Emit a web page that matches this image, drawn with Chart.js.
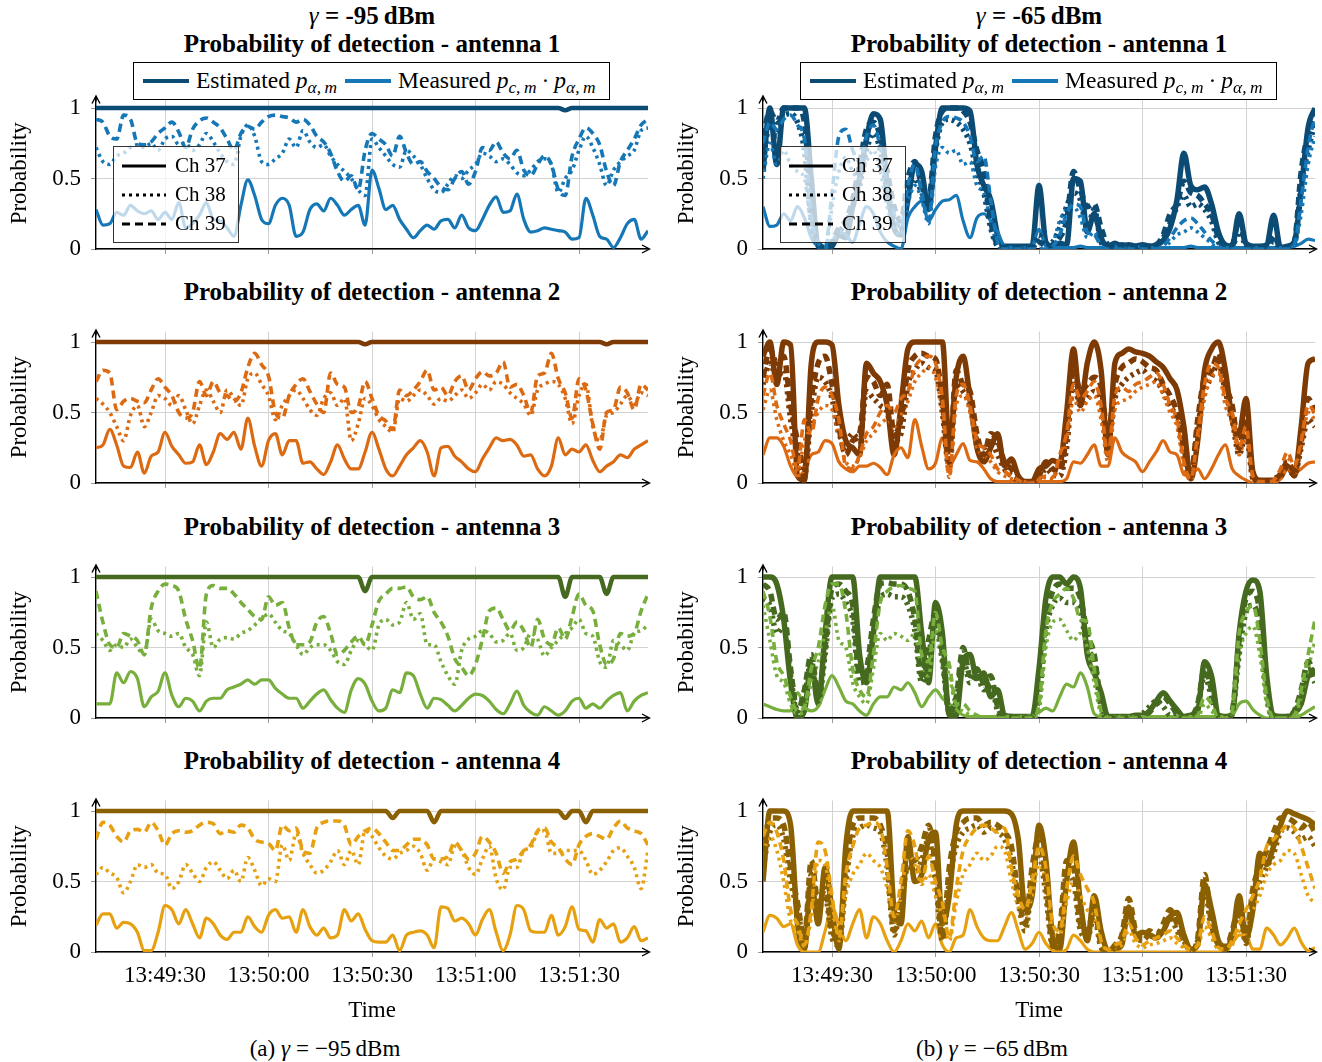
<!DOCTYPE html>
<html lang="en">
<head>
  <meta charset="UTF-8" />
  <title>Probability of detection per antenna</title>
  <script src="https://cdn.jsdelivr.net/npm/chart.js"></script>
  <style>
    * { margin: 0; padding: 0; box-sizing: border-box; }

    body {
      width: 1322px;
      height: 1062px;
      position: relative;
      overflow: hidden;
      background: #fff;
      color: #000;
      font-family: 'Liberation Serif', 'Times New Roman', serif;
    }

    canvas { position: absolute; }

    .t {
      position: absolute;
      transform: translate(-50%, -50%);
      white-space: nowrap;
      line-height: 1;
    }

    .head, .title { font-size: 25px; font-weight: bold; }
    .head i { font-weight: normal; }
    .caption { font-size: 23px; }
    .op { margin: 0 6px; }

    sub {
      font-size: 0.74em;
      vertical-align: -0.3em;
      line-height: 0;
      font-style: italic;
    }

    .topleg {
      position: absolute;
      width: 477px;
      height: 38px;
      border: 1px solid #000;
      background: #fff;
      display: flex;
      align-items: center;
      padding-left: 9px;
      font-size: 23.5px;
      line-height: 1;
    }
    .topleg svg { margin-right: 7px; }
    .topleg span { margin-right: 8px; }
    .topleg .dot { margin: 0 5px; }

    .chleg {
      position: absolute;
      width: 126px;
      height: 97px;
      border: 1px solid #333;
      background: rgba(255, 255, 255, 0.72);
      padding: 4px 0 0 8px;
      font-size: 21px;
      line-height: 1;
    }
    .chleg div { height: 29px; display: flex; align-items: center; }
    .chleg svg { margin-right: 9px; }
  </style>
</head>
<body>
  <script>
    // time axis: seconds after 13:49:00, one sample every 2 s
    const TIME = [
      10, 12, 14, 16, 18, 20, 22, 24, 26, 28,
      30, 32, 34, 36, 38, 40, 42, 44, 46, 48,
      50, 52, 54, 56, 58, 60, 62, 64, 66, 68,
      70, 72, 74, 76, 78, 80, 82, 84, 86, 88,
      90, 92, 94, 96, 98, 100, 102, 104, 106, 108,
      110, 112, 114, 116, 118, 120, 122, 124, 126, 128,
      130, 132, 134, 136, 138, 140, 142, 144, 146, 148,
      150, 152, 154, 156, 158, 160, 162, 164, 166, 168,
      170
    ];
    const X_TICKS = [30, 60, 90, 120, 150];
    const X_LABELS = ['13:49:30', '13:50:00', '13:50:30', '13:51:00', '13:51:30'];
    const Y_TICKS = [0, 0.5, 1];
    const Y_LABELS = ['0', '0.5', '1'];

    // ---- gamma = -95 dBm ----
    // estimated p_alpha (same for Ch 37/38/39 at this threshold)
    const L1_EST = [
      1, 1, 1, 1, 1, 1, 1, 1, 1, 1,
      1, 1, 1, 1, 1, 1, 1, 1, 1, 1,
      1, 1, 1, 1, 1, 1, 1, 1, 1, 1,
      1, 1, 1, 1, 1, 1, 1, 1, 1, 1,
      1, 1, 1, 1, 1, 1, 1, 1, 1, 1,
      1, 1, 1, 1, 1, 1, 1, 1, 1, 1,
      1, 1, 1, 1, 1, 1, 1, 1, 0.985, 1,
      1, 1, 1, 1, 1, 1, 1, 1, 1, 1,
      1
    ];
    const L2_EST = [
      1, 1, 1, 1, 1, 1, 1, 1, 1, 1,
      1, 1, 1, 1, 1, 1, 1, 1, 1, 1,
      1, 1, 1, 1, 1, 1, 1, 1, 1, 1,
      1, 1, 1, 1, 1, 1, 1, 1, 1, 0.985,
      1, 1, 1, 1, 1, 1, 1, 1, 1, 1,
      1, 1, 1, 1, 1, 1, 1, 1, 1, 1,
      1, 1, 1, 1, 1, 1, 1, 1, 1, 1,
      1, 1, 1, 1, 0.985, 1, 1, 1, 1, 1,
      1
    ];
    const L3_EST = [
      1, 1, 1, 1, 1, 1, 1, 1, 1, 1,
      1, 1, 1, 1, 1, 1, 1, 1, 1, 1,
      1, 1, 1, 1, 1, 1, 1, 1, 1, 1,
      1, 1, 1, 1, 1, 1, 1, 1, 1, 0.9,
      1, 1, 1, 1, 1, 1, 1, 1, 1, 1,
      1, 1, 1, 1, 1, 1, 1, 1, 1, 1,
      1, 1, 1, 1, 1, 1, 1, 1, 0.86, 1,
      1, 1, 1, 1, 0.88, 1, 1, 1, 1, 1,
      1
    ];
    const L4_EST = [
      1, 1, 1, 1, 1, 1, 1, 1, 1, 1,
      1, 1, 1, 1, 1, 1, 1, 1, 1, 1,
      1, 1, 1, 1, 1, 1, 1, 1, 1, 1,
      1, 1, 1, 1, 1, 1, 1, 1, 1, 1,
      1, 1, 1, 0.95, 1, 1, 1, 1, 1, 0.92,
      1, 1, 1, 1, 1, 1, 1, 1, 1, 1,
      1, 1, 1, 1, 1, 1, 1, 1, 0.95, 1,
      1, 0.92, 1, 1, 1, 1, 1, 1, 1, 1,
      1
    ];

    // measured p_c * p_alpha
    const L1_M37 = [
      0.28, 0.17, 0.18, 0.26, 0.24, 0.31, 0.27, 0.25, 0.27, 0.21,
      0.26, 0.21, 0.33, 0.15, 0.18, 0.24, 0.33, 0.21, 0.20, 0.15,
      0.09, 0.31, 0.49, 0.38, 0.21, 0.18, 0.31, 0.36, 0.31, 0.09,
      0.12, 0.28, 0.32, 0.27, 0.36, 0.31, 0.24, 0.28, 0.31, 0.17,
      0.56, 0.43, 0.28, 0.31, 0.21, 0.14, 0.08, 0.13, 0.17, 0.14,
      0.20, 0.21, 0.15, 0.24, 0.15, 0.13, 0.21, 0.31, 0.37, 0.26,
      0.27, 0.39, 0.21, 0.12, 0.13, 0.15, 0.14, 0.13, 0.12, 0.07,
      0.08, 0.36, 0.24, 0.09, 0.07, 0.01, 0.08, 0.18, 0.21, 0.07,
      0.13
    ];
    const L1_M38 = [
      0.72, 0.62, 0.60, 0.66, 0.68, 0.72, 0.74, 0.72, 0.75, 0.70,
      0.78, 0.80, 0.74, 0.75, 0.70, 0.74, 0.82, 0.76, 0.68, 0.62,
      0.60, 0.80, 0.88, 0.80, 0.62, 0.60, 0.64, 0.68, 0.78, 0.72,
      0.84, 0.76, 0.72, 0.74, 0.66, 0.60, 0.55, 0.50, 0.42, 0.38,
      0.78, 0.72, 0.66, 0.60, 0.58, 0.70, 0.66, 0.60, 0.50, 0.42,
      0.40, 0.46, 0.52, 0.50, 0.56, 0.60, 0.68, 0.66, 0.62, 0.64,
      0.60, 0.54, 0.52, 0.56, 0.62, 0.64, 0.60, 0.40, 0.50, 0.56,
      0.70, 0.80, 0.72, 0.60, 0.45, 0.56, 0.62, 0.66, 0.70, 0.84,
      0.86
    ];
    const L1_M39 = [
      0.92, 0.90, 0.80, 0.78, 0.95, 0.92, 0.75, 0.74, 0.76, 0.82,
      0.86, 0.90, 0.83, 0.72, 0.85, 0.91, 0.93, 0.90, 0.86, 0.78,
      0.70, 0.82, 0.87, 0.85, 0.90, 0.94, 0.95, 0.94, 0.93, 0.90,
      0.92, 0.88, 0.80, 0.76, 0.68, 0.55, 0.48, 0.52, 0.42, 0.70,
      0.82, 0.78, 0.74, 0.66, 0.80, 0.68, 0.60, 0.62, 0.55, 0.50,
      0.44, 0.42, 0.50, 0.55, 0.46, 0.55, 0.72, 0.70, 0.76, 0.68,
      0.64, 0.70, 0.56, 0.52, 0.60, 0.66, 0.60, 0.42, 0.38, 0.66,
      0.78, 0.86, 0.82, 0.74, 0.55, 0.45, 0.62, 0.70, 0.78, 0.88,
      0.92
    ];

    const L2_M37 = [
      0.25, 0.27, 0.38, 0.27, 0.12, 0.11, 0.22, 0.07, 0.19, 0.22,
      0.36, 0.26, 0.20, 0.14, 0.15, 0.27, 0.13, 0.22, 0.35, 0.31,
      0.36, 0.24, 0.46, 0.26, 0.12, 0.30, 0.35, 0.20, 0.30, 0.30,
      0.14, 0.15, 0.10, 0.06, 0.15, 0.27, 0.17, 0.10, 0.10, 0.22,
      0.36, 0.24, 0.10, 0.05, 0.12, 0.20, 0.25, 0.30, 0.22, 0.05,
      0.25, 0.26, 0.19, 0.15, 0.10, 0.08, 0.17, 0.25, 0.32, 0.30,
      0.31, 0.27, 0.19, 0.20, 0.10, 0.05, 0.12, 0.32, 0.20, 0.24,
      0.22, 0.27, 0.16, 0.08, 0.12, 0.15, 0.20, 0.18, 0.24, 0.27,
      0.30
    ];
    const L2_M38 = [
      0.60, 0.56, 0.50, 0.40, 0.30, 0.48, 0.55, 0.40, 0.50, 0.62,
      0.60, 0.55, 0.62, 0.52, 0.42, 0.55, 0.66, 0.58, 0.50, 0.66,
      0.60, 0.55, 0.74, 0.78, 0.70, 0.62, 0.45, 0.55, 0.62, 0.66,
      0.60, 0.52, 0.48, 0.60, 0.64, 0.55, 0.60, 0.30, 0.42, 0.60,
      0.55, 0.45, 0.40, 0.36, 0.60, 0.58, 0.62, 0.66, 0.62, 0.56,
      0.60, 0.58, 0.62, 0.66, 0.60, 0.64, 0.70, 0.66, 0.72, 0.70,
      0.64, 0.60, 0.56, 0.48, 0.66, 0.70, 0.72, 0.70, 0.60, 0.42,
      0.62, 0.70, 0.40, 0.30, 0.48, 0.50, 0.56, 0.62, 0.56, 0.64,
      0.62
    ];
    const L2_M39 = [
      0.72, 0.80, 0.78, 0.52, 0.58, 0.60, 0.58, 0.57, 0.66, 0.74,
      0.68, 0.62, 0.50, 0.46, 0.50, 0.72, 0.62, 0.72, 0.64, 0.62,
      0.58, 0.64, 0.82, 0.92, 0.84, 0.76, 0.50, 0.46, 0.62, 0.70,
      0.74, 0.65, 0.56, 0.50, 0.78, 0.70, 0.68, 0.50, 0.54, 0.72,
      0.60, 0.48, 0.44, 0.38, 0.66, 0.62, 0.66, 0.72, 0.80, 0.66,
      0.68, 0.62, 0.72, 0.76, 0.66, 0.74, 0.79, 0.76, 0.78, 0.86,
      0.68, 0.70, 0.62, 0.50, 0.76, 0.78, 0.92, 0.74, 0.64, 0.46,
      0.74, 0.66, 0.42, 0.24, 0.50, 0.52, 0.68, 0.64, 0.52, 0.70,
      0.66
    ];

    const L3_M37 = [
      0.10, 0.10, 0.10, 0.32, 0.25, 0.33, 0.28, 0.08, 0.15, 0.19,
      0.32, 0.16, 0.08, 0.14, 0.12, 0.05, 0.12, 0.14, 0.14, 0.20,
      0.22, 0.24, 0.27, 0.24, 0.27, 0.27, 0.21, 0.17, 0.14, 0.14,
      0.07, 0.12, 0.17, 0.20, 0.13, 0.07, 0.04, 0.20, 0.28, 0.24,
      0.12, 0.05, 0.07, 0.20, 0.18, 0.32, 0.30, 0.17, 0.07, 0.14,
      0.13, 0.09, 0.05, 0.09, 0.14, 0.17, 0.16, 0.12, 0.06, 0.03,
      0.10, 0.19, 0.09, 0.04, 0.02, 0.08, 0.05, 0.02, 0.05, 0.12,
      0.14, 0.07, 0.10, 0.07, 0.12, 0.16, 0.18, 0.05, 0.12, 0.16,
      0.18
    ];
    const L3_M38 = [
      0.60, 0.55, 0.48, 0.52, 0.50, 0.56, 0.50, 0.45, 0.70, 0.62,
      0.60, 0.58, 0.60, 0.50, 0.45, 0.30, 0.68, 0.50, 0.56, 0.57,
      0.56, 0.60, 0.62, 0.66, 0.70, 0.74, 0.68, 0.62, 0.60, 0.52,
      0.45, 0.50, 0.52, 0.52, 0.48, 0.40, 0.38, 0.48, 0.55, 0.52,
      0.48, 0.66, 0.70, 0.66, 0.68, 0.82, 0.70, 0.74, 0.52, 0.52,
      0.40, 0.30, 0.24, 0.48, 0.56, 0.58, 0.62, 0.60, 0.54, 0.55,
      0.60, 0.48, 0.50, 0.60, 0.56, 0.44, 0.50, 0.55, 0.60, 0.64,
      0.70, 0.60, 0.58, 0.40, 0.36, 0.55, 0.52, 0.48, 0.60, 0.62,
      0.66
    ];
    const L3_M39 = [
      0.90, 0.68, 0.52, 0.50, 0.60, 0.58, 0.55, 0.45, 0.78, 0.90,
      0.95, 0.94, 0.90, 0.70, 0.55, 0.35, 0.88, 0.94, 0.92, 0.92,
      0.88, 0.82, 0.77, 0.72, 0.70, 0.86, 0.80, 0.82, 0.64, 0.52,
      0.52, 0.54, 0.68, 0.72, 0.60, 0.45, 0.48, 0.54, 0.58, 0.52,
      0.66, 0.83, 0.88, 0.92, 0.92, 0.93, 0.86, 0.84, 0.86, 0.75,
      0.68, 0.58, 0.42, 0.36, 0.30, 0.38, 0.56, 0.76, 0.78, 0.70,
      0.62, 0.68, 0.62, 0.50, 0.70, 0.56, 0.52, 0.64, 0.56, 0.72,
      0.88, 0.80, 0.76, 0.52, 0.38, 0.42, 0.60, 0.58, 0.60, 0.76,
      0.88
    ];

    const L4_M37 = [
      0.19, 0.27, 0.27, 0.17, 0.21, 0.20, 0.14, 0.01, 0.01, 0.14,
      0.33, 0.30, 0.20, 0.30, 0.20, 0.10, 0.24, 0.20, 0.12, 0.09,
      0.14, 0.14, 0.25, 0.18, 0.14, 0.26, 0.30, 0.24, 0.25, 0.14,
      0.30, 0.18, 0.12, 0.17, 0.10, 0.12, 0.30, 0.22, 0.27, 0.16,
      0.08, 0.07, 0.07, 0.12, 0.01, 0.12, 0.14, 0.15, 0.12, 0.03,
      0.32, 0.31, 0.22, 0.24, 0.20, 0.12, 0.23, 0.30, 0.14, 0.01,
      0.12, 0.33, 0.30, 0.15, 0.14, 0.14, 0.26, 0.12, 0.18, 0.32,
      0.16, 0.15, 0.07, 0.23, 0.17, 0.20, 0.07, 0.10, 0.18, 0.08,
      0.10
    ];
    const L4_M38 = [
      0.55, 0.60, 0.56, 0.53, 0.42, 0.50, 0.62, 0.60, 0.62, 0.56,
      0.55, 0.45, 0.50, 0.62, 0.56, 0.50, 0.60, 0.64, 0.58, 0.52,
      0.58, 0.50, 0.67, 0.58, 0.47, 0.52, 0.50, 0.76, 0.65, 0.84,
      0.70, 0.62, 0.56, 0.58, 0.64, 0.72, 0.62, 0.72, 0.62, 0.86,
      0.82, 0.74, 0.68, 0.66, 0.70, 0.72, 0.75, 0.70, 0.58, 0.66,
      0.64, 0.62, 0.75, 0.72, 0.60, 0.55, 0.66, 0.75, 0.52, 0.44,
      0.60, 0.60, 0.72, 0.74, 0.85, 0.86, 0.70, 0.70, 0.72, 0.72,
      0.72, 0.65, 0.55, 0.58, 0.64, 0.72, 0.74, 0.68, 0.60, 0.45,
      0.72
    ];
    const L4_M39 = [
      0.80, 0.92, 0.90, 0.82, 0.78, 0.86, 0.87, 0.85, 0.92, 0.86,
      0.76, 0.84, 0.86, 0.85, 0.86, 0.90, 0.92, 0.91, 0.84, 0.86,
      0.85, 0.90, 0.88, 0.80, 0.78, 0.77, 0.72, 0.90, 0.86, 0.88,
      0.72, 0.70, 0.88, 0.92, 0.93, 0.93, 0.90, 0.76, 0.82, 0.86,
      0.88, 0.84, 0.78, 0.72, 0.72, 0.76, 0.80, 0.80, 0.76, 0.66,
      0.66, 0.68, 0.78, 0.72, 0.66, 0.70, 0.82, 0.78, 0.70, 0.56,
      0.64, 0.66, 0.72, 0.76, 0.86, 0.88, 0.78, 0.74, 0.66, 0.62,
      0.76, 0.82, 0.84, 0.82, 0.80, 0.88, 0.93, 0.88, 0.86, 0.84,
      0.76
    ];

    // ---- gamma = -65 dBm ----
    const R1_E37 = [
      0.55, 1.00, 0.60, 1.00, 1.00, 1.00, 1.00, 0.50, 0.02, 0.00,
      0.02, 0.10, 0.08, 0.30, 0.50, 0.78, 0.96, 0.92, 0.45, 0.15,
      0.10, 0.35, 0.60, 0.55, 0.28, 0.72, 1.00, 1.00, 1.00, 1.00,
      0.98, 0.60, 0.45, 0.35, 0.10, 0.02, 0.02, 0.02, 0.02, 0.02,
      0.45, 0.05, 0.02, 0.04, 0.03, 0.50, 0.48, 0.12, 0.25, 0.08,
      0.02, 0.04, 0.02, 0.03, 0.02, 0.03, 0.02, 0.03, 0.06, 0.15,
      0.35, 0.68, 0.45, 0.42, 0.44, 0.32, 0.12, 0.03, 0.02, 0.25,
      0.04, 0.02, 0.02, 0.03, 0.24, 0.01, 0.02, 0.05, 0.42, 0.86,
      1.00
    ];
    const R1_E38 = [
      0.60, 0.90, 0.80, 0.95, 0.96, 0.90, 0.70, 0.20, 0.03, 0.00,
      0.03, 0.12, 0.18, 0.30, 0.45, 0.70, 0.82, 0.70, 0.40, 0.20,
      0.15, 0.40, 0.50, 0.40, 0.30, 0.70, 0.90, 0.92, 0.90, 0.85,
      0.75, 0.55, 0.40, 0.15, 0.02, 0.00, 0.00, 0.00, 0.00, 0.00,
      0.10, 0.02, 0.05, 0.15, 0.30, 0.40, 0.35, 0.15, 0.28, 0.05,
      0.01, 0.01, 0.01, 0.01, 0.01, 0.01, 0.01, 0.02, 0.08, 0.18,
      0.30, 0.38, 0.30, 0.32, 0.28, 0.20, 0.05, 0.01, 0.02, 0.12,
      0.02, 0.00, 0.00, 0.01, 0.05, 0.00, 0.00, 0.03, 0.45, 0.70,
      0.90
    ];
    const R1_E39 = [
      0.80, 0.98, 0.90, 1.00, 1.00, 1.00, 0.90, 0.30, 0.05, 0.01,
      0.05, 0.15, 0.20, 0.35, 0.60, 0.85, 0.90, 0.80, 0.55, 0.30,
      0.20, 0.50, 0.62, 0.45, 0.35, 0.80, 0.98, 1.00, 1.00, 0.98,
      0.90, 0.70, 0.55, 0.20, 0.03, 0.01, 0.01, 0.01, 0.01, 0.01,
      0.05, 0.02, 0.03, 0.08, 0.20, 0.55, 0.42, 0.30, 0.32, 0.15,
      0.03, 0.02, 0.03, 0.02, 0.02, 0.02, 0.02, 0.03, 0.10, 0.25,
      0.32, 0.48, 0.40, 0.38, 0.32, 0.25, 0.08, 0.02, 0.03, 0.20,
      0.03, 0.01, 0.01, 0.02, 0.10, 0.01, 0.01, 0.05, 0.55, 0.82,
      0.96
    ];
    const R1_M37 = [
      0.30, 0.16, 0.17, 0.25, 0.20, 0.30, 0.22, 0.08, 0.02, 0.01,
      0.05, 0.12, 0.10, 0.05, 0.18, 0.30, 0.25, 0.12, 0.05, 0.02,
      0.00, 0.22, 0.30, 0.34, 0.20, 0.28, 0.34, 0.35, 0.38, 0.20,
      0.08, 0.22, 0.25, 0.20, 0.12, 0.02, 0.01, 0.01, 0.01, 0.02,
      0.14, 0.02, 0.01, 0.01, 0.01, 0.01, 0.02, 0.01, 0.01, 0.01,
      0.01, 0.02, 0.01, 0.01, 0.01, 0.02, 0.01, 0.01, 0.01, 0.01,
      0.01, 0.01, 0.02, 0.01, 0.01, 0.01, 0.01, 0.01, 0.01, 0.01,
      0.01, 0.01, 0.01, 0.01, 0.01, 0.01, 0.01, 0.02, 0.04, 0.07,
      0.06
    ];
    const R1_M38 = [
      0.50, 0.75, 0.60, 0.70, 0.60, 0.55, 0.50, 0.15, 0.02, 0.00,
      0.30, 0.55, 0.65, 0.55, 0.50, 0.62, 0.70, 0.55, 0.30, 0.15,
      0.10, 0.32, 0.45, 0.35, 0.18, 0.58, 0.72, 0.68, 0.70, 0.60,
      0.62, 0.45, 0.40, 0.20, 0.03, 0.00, 0.00, 0.00, 0.00, 0.00,
      0.00, 0.00, 0.04, 0.20, 0.28, 0.30, 0.22, 0.08, 0.12, 0.02,
      0.00, 0.00, 0.00, 0.00, 0.00, 0.00, 0.00, 0.00, 0.00, 0.05,
      0.10, 0.12, 0.15, 0.12, 0.08, 0.04, 0.00, 0.00, 0.00, 0.00,
      0.00, 0.00, 0.00, 0.00, 0.00, 0.00, 0.00, 0.02, 0.25, 0.60,
      0.80
    ];
    const R1_M39 = [
      0.75, 0.90, 0.85, 0.92, 0.95, 0.88, 0.78, 0.25, 0.04, 0.01,
      0.40, 0.80, 0.85, 0.70, 0.62, 0.80, 0.88, 0.72, 0.45, 0.25,
      0.15, 0.45, 0.60, 0.40, 0.20, 0.72, 0.90, 0.94, 0.93, 0.90,
      0.80, 0.62, 0.66, 0.35, 0.05, 0.00, 0.00, 0.00, 0.00, 0.00,
      0.00, 0.00, 0.02, 0.10, 0.25, 0.32, 0.30, 0.12, 0.10, 0.02,
      0.00, 0.00, 0.00, 0.00, 0.00, 0.00, 0.00, 0.00, 0.02, 0.08,
      0.15, 0.20, 0.22, 0.18, 0.12, 0.06, 0.02, 0.00, 0.00, 0.00,
      0.00, 0.00, 0.00, 0.00, 0.00, 0.00, 0.00, 0.03, 0.35, 0.72,
      0.94
    ];

    const R2_E37 = [
      0.90, 1.00, 0.70, 1.00, 0.98, 0.05, 0.02, 0.85, 1.00, 1.00,
      0.98, 0.55, 0.30, 0.25, 0.20, 0.85, 0.78, 0.72, 0.55, 0.20,
      0.55, 0.95, 1.00, 1.00, 1.00, 1.00, 1.00, 0.25, 0.75, 0.90,
      0.60, 0.25, 0.15, 0.25, 0.35, 0.12, 0.17, 0.05, 0.01, 0.01,
      0.10, 0.12, 0.16, 0.14, 0.50, 0.95, 0.55, 0.85, 1.00, 0.80,
      0.20, 0.85, 0.92, 0.95, 0.93, 0.92, 0.90, 0.86, 0.82, 0.74,
      0.66, 0.40, 0.03, 0.30, 0.80, 0.95, 1.00, 0.80, 0.45, 0.35,
      0.60, 0.08, 0.02, 0.02, 0.02, 0.04, 0.12, 0.05, 0.40, 0.85,
      0.88
    ];
    const R2_E38 = [
      0.70, 0.85, 0.75, 0.80, 0.45, 0.20, 0.05, 0.50, 0.75, 0.72,
      0.60, 0.35, 0.30, 0.35, 0.30, 0.65, 0.60, 0.55, 0.50, 0.30,
      0.35, 0.70, 0.80, 0.85, 0.82, 0.80, 0.50, 0.10, 0.70, 0.65,
      0.55, 0.30, 0.25, 0.30, 0.20, 0.10, 0.05, 0.02, 0.00, 0.00,
      0.03, 0.10, 0.06, 0.05, 0.25, 0.70, 0.55, 0.60, 0.65, 0.55,
      0.30, 0.60, 0.70, 0.75, 0.78, 0.80, 0.75, 0.72, 0.65, 0.55,
      0.45, 0.20, 0.04, 0.40, 0.65, 0.75, 0.85, 0.65, 0.45, 0.20,
      0.35, 0.03, 0.00, 0.00, 0.02, 0.05, 0.10, 0.06, 0.25, 0.45,
      0.40
    ];
    const R2_E39 = [
      0.75, 0.95, 0.85, 0.90, 0.55, 0.30, 0.10, 0.60, 0.85, 0.90,
      0.70, 0.40, 0.20, 0.30, 0.35, 0.75, 0.72, 0.62, 0.70, 0.35,
      0.45, 0.80, 0.90, 0.92, 0.90, 0.88, 0.60, 0.15, 0.80, 0.70,
      0.65, 0.35, 0.20, 0.35, 0.30, 0.15, 0.10, 0.03, 0.00, 0.00,
      0.05, 0.15, 0.10, 0.08, 0.35, 0.82, 0.65, 0.70, 0.75, 0.68,
      0.35, 0.70, 0.82, 0.85, 0.88, 0.86, 0.82, 0.80, 0.70, 0.62,
      0.50, 0.25, 0.05, 0.45, 0.75, 0.80, 0.92, 0.70, 0.55, 0.25,
      0.45, 0.05, 0.01, 0.01, 0.03, 0.06, 0.15, 0.08, 0.30, 0.60,
      0.50
    ];
    const R2_M37 = [
      0.20, 0.32, 0.32, 0.26, 0.12, 0.05, 0.09, 0.20, 0.22, 0.30,
      0.28, 0.15, 0.10, 0.08, 0.12, 0.12, 0.14, 0.11, 0.06, 0.20,
      0.25, 0.18, 0.45, 0.26, 0.10, 0.14, 0.32, 0.12, 0.20, 0.28,
      0.16, 0.15, 0.10, 0.03, 0.01, 0.01, 0.01, 0.01, 0.01, 0.01,
      0.01, 0.01, 0.01, 0.01, 0.03, 0.15, 0.14, 0.20, 0.27, 0.12,
      0.12, 0.32, 0.22, 0.18, 0.15, 0.08, 0.15, 0.22, 0.30, 0.22,
      0.20, 0.06, 0.05, 0.10, 0.03, 0.10, 0.20, 0.27, 0.10, 0.05,
      0.02, 0.00, 0.00, 0.00, 0.00, 0.03, 0.10, 0.07, 0.10, 0.14,
      0.15
    ];
    const R2_M38 = [
      0.52, 0.66, 0.45, 0.30, 0.20, 0.08, 0.30, 0.40, 0.50, 0.55,
      0.52, 0.35, 0.15, 0.12, 0.18, 0.30, 0.35, 0.42, 0.45, 0.40,
      0.48, 0.58, 0.72, 0.78, 0.82, 0.75, 0.50, 0.04, 0.55, 0.62,
      0.50, 0.25, 0.20, 0.15, 0.08, 0.05, 0.03, 0.01, 0.00, 0.00,
      0.02, 0.04, 0.03, 0.15, 0.30, 0.60, 0.50, 0.58, 0.62, 0.45,
      0.15, 0.52, 0.58, 0.60, 0.65, 0.68, 0.70, 0.72, 0.62, 0.50,
      0.40, 0.12, 0.02, 0.30, 0.60, 0.75, 0.78, 0.55, 0.42, 0.20,
      0.32, 0.04, 0.00, 0.00, 0.02, 0.08, 0.18, 0.10, 0.25, 0.50,
      0.45
    ];
    const R2_M39 = [
      0.62, 0.78, 0.55, 0.42, 0.30, 0.10, 0.45, 0.35, 0.60, 0.68,
      0.62, 0.45, 0.12, 0.10, 0.20, 0.35, 0.40, 0.50, 0.55, 0.50,
      0.60, 0.65, 0.82, 0.88, 0.90, 0.85, 0.60, 0.05, 0.62, 0.70,
      0.55, 0.30, 0.25, 0.20, 0.10, 0.08, 0.05, 0.02, 0.00, 0.00,
      0.03, 0.05, 0.04, 0.20, 0.35, 0.70, 0.60, 0.65, 0.72, 0.55,
      0.20, 0.62, 0.68, 0.65, 0.70, 0.72, 0.75, 0.78, 0.70, 0.55,
      0.45, 0.15, 0.03, 0.35, 0.70, 0.85, 0.82, 0.60, 0.50, 0.25,
      0.40, 0.05, 0.01, 0.01, 0.02, 0.10, 0.22, 0.12, 0.30, 0.55,
      0.50
    ];

    const R3_E37 = [
      1.00, 1.00, 0.95, 0.70, 0.25, 0.00, 0.05, 0.38, 0.10, 0.60,
      1.00, 1.00, 1.00, 1.00, 0.45, 0.25, 0.60, 1.00, 1.00, 1.00,
      1.00, 1.00, 1.00, 0.60, 0.25, 0.82, 0.60, 0.02, 0.02, 0.40,
      0.45, 0.28, 0.32, 0.15, 0.20, 0.02, 0.01, 0.01, 0.01, 0.01,
      0.35, 0.85, 1.00, 1.00, 0.95, 1.00, 0.92, 0.45, 0.32, 0.18,
      0.01, 0.01, 0.01, 0.01, 0.02, 0.02, 0.05, 0.12, 0.18, 0.12,
      0.06, 0.01, 0.02, 0.05, 0.40, 0.30, 0.02, 0.01, 0.02, 0.60,
      0.90, 0.98, 0.90, 0.30, 0.02, 0.01, 0.01, 0.03, 0.10, 0.30,
      0.35
    ];
    const R3_E38 = [
      0.85, 0.80, 0.60, 0.65, 0.30, 0.03, 0.15, 0.40, 0.12, 0.45,
      0.85, 0.88, 0.82, 0.70, 0.25, 0.30, 0.60, 0.85, 0.88, 0.86,
      0.86, 0.80, 0.62, 0.25, 0.45, 0.65, 0.40, 0.04, 0.12, 0.42,
      0.25, 0.30, 0.20, 0.25, 0.05, 0.00, 0.00, 0.00, 0.00, 0.01,
      0.15, 0.62, 0.80, 0.85, 0.82, 0.82, 0.75, 0.50, 0.40, 0.08,
      0.00, 0.00, 0.00, 0.00, 0.01, 0.03, 0.08, 0.12, 0.08, 0.02,
      0.03, 0.00, 0.01, 0.08, 0.30, 0.15, 0.01, 0.00, 0.04, 0.45,
      0.75, 0.80, 0.65, 0.15, 0.00, 0.00, 0.01, 0.04, 0.15, 0.35,
      0.25
    ];
    const R3_E39 = [
      0.95, 0.90, 0.70, 0.75, 0.35, 0.05, 0.20, 0.45, 0.15, 0.50,
      0.92, 0.95, 0.90, 0.80, 0.30, 0.35, 0.70, 0.95, 0.96, 0.95,
      0.95, 0.90, 0.70, 0.30, 0.55, 0.75, 0.45, 0.05, 0.15, 0.50,
      0.30, 0.35, 0.25, 0.30, 0.08, 0.01, 0.01, 0.00, 0.00, 0.01,
      0.20, 0.70, 0.90, 0.95, 0.92, 0.92, 0.85, 0.60, 0.45, 0.10,
      0.01, 0.00, 0.00, 0.00, 0.00, 0.02, 0.04, 0.10, 0.15, 0.10,
      0.03, 0.00, 0.01, 0.10, 0.35, 0.20, 0.01, 0.00, 0.05, 0.55,
      0.85, 0.90, 0.75, 0.20, 0.00, 0.00, 0.01, 0.05, 0.20, 0.40,
      0.30
    ];
    const R3_M37 = [
      0.10, 0.08, 0.06, 0.05, 0.05, 0.18, 0.08, 0.05, 0.08, 0.20,
      0.30, 0.22, 0.12, 0.10, 0.05, 0.02, 0.10, 0.15, 0.15, 0.22,
      0.20, 0.25, 0.18, 0.08, 0.15, 0.20, 0.14, 0.10, 0.06, 0.02,
      0.01, 0.01, 0.01, 0.01, 0.01, 0.01, 0.01, 0.01, 0.01, 0.02,
      0.04, 0.07, 0.05, 0.15, 0.24, 0.22, 0.32, 0.22, 0.03, 0.01,
      0.01, 0.01, 0.01, 0.01, 0.01, 0.01, 0.01, 0.01, 0.01, 0.01,
      0.01, 0.01, 0.01, 0.01, 0.01, 0.01, 0.01, 0.01, 0.02, 0.10,
      0.12, 0.06, 0.02, 0.00, 0.00, 0.00, 0.00, 0.00, 0.02, 0.05,
      0.08
    ];
    const R3_M38 = [
      0.80, 0.55, 0.30, 0.25, 0.10, 0.03, 0.05, 0.25, 0.40, 0.60,
      0.80, 0.55, 0.50, 0.25, 0.15, 0.10, 0.35, 0.60, 0.55, 0.60,
      0.58, 0.55, 0.60, 0.35, 0.30, 0.62, 0.45, 0.30, 0.08, 0.05,
      0.02, 0.00, 0.00, 0.00, 0.00, 0.00, 0.00, 0.00, 0.00, 0.00,
      0.05, 0.50, 0.68, 0.70, 0.62, 0.55, 0.60, 0.50, 0.25, 0.03,
      0.00, 0.00, 0.00, 0.00, 0.00, 0.00, 0.00, 0.00, 0.00, 0.00,
      0.00, 0.00, 0.00, 0.00, 0.10, 0.05, 0.00, 0.00, 0.03, 0.45,
      0.60, 0.65, 0.45, 0.10, 0.00, 0.00, 0.00, 0.00, 0.15, 0.35,
      0.55
    ];
    const R3_M39 = [
      0.90, 0.72, 0.40, 0.30, 0.15, 0.05, 0.08, 0.35, 0.50, 0.80,
      0.95, 0.95, 0.75, 0.35, 0.20, 0.15, 0.45, 0.82, 0.90, 0.93,
      0.94, 0.92, 0.90, 0.45, 0.40, 0.75, 0.50, 0.38, 0.10, 0.10,
      0.05, 0.02, 0.00, 0.00, 0.00, 0.00, 0.00, 0.00, 0.00, 0.00,
      0.10, 0.62, 0.82, 0.88, 0.92, 0.85, 0.70, 0.68, 0.35, 0.05,
      0.00, 0.00, 0.00, 0.00, 0.00, 0.00, 0.00, 0.00, 0.00, 0.00,
      0.00, 0.00, 0.00, 0.02, 0.15, 0.10, 0.00, 0.00, 0.05, 0.60,
      0.75, 0.80, 0.55, 0.15, 0.00, 0.00, 0.00, 0.02, 0.20, 0.45,
      0.70
    ];

    const R4_E37 = [
      0.50, 1.00, 1.00, 1.00, 0.90, 0.20, 0.02, 0.50, 0.20, 0.60,
      0.30, 0.02, 0.75, 1.00, 1.00, 1.00, 1.00, 1.00, 1.00, 0.30,
      0.20, 0.82, 0.50, 0.55, 0.80, 0.85, 0.20, 0.40, 0.90, 1.00,
      1.00, 1.00, 1.00, 1.00, 1.00, 1.00, 0.98, 0.80, 0.30, 0.40,
      0.90, 0.65, 0.10, 0.02, 0.50, 0.78, 0.35, 0.08, 0.40, 0.15,
      0.01, 0.02, 0.05, 0.32, 0.12, 0.14, 0.12, 0.10, 0.15, 0.25,
      0.28, 0.12, 0.02, 0.05, 0.48, 0.30, 0.08, 0.04, 0.10, 0.40,
      0.10, 0.30, 0.70, 0.62, 0.75, 0.90, 1.00, 0.98, 0.96, 0.94,
      0.90
    ];
    const R4_E38 = [
      0.60, 0.85, 0.90, 0.80, 0.50, 0.30, 0.08, 0.55, 0.30, 0.40,
      0.10, 0.05, 0.50, 0.82, 0.88, 0.90, 0.88, 0.85, 0.60, 0.12,
      0.35, 0.60, 0.55, 0.65, 0.80, 0.50, 0.08, 0.50, 0.75, 0.85,
      0.88, 0.90, 0.85, 0.88, 0.85, 0.80, 0.65, 0.35, 0.15, 0.50,
      0.70, 0.40, 0.04, 0.10, 0.55, 0.50, 0.15, 0.10, 0.25, 0.03,
      0.00, 0.03, 0.10, 0.30, 0.12, 0.08, 0.12, 0.10, 0.15, 0.25,
      0.15, 0.06, 0.01, 0.08, 0.45, 0.15, 0.03, 0.01, 0.12, 0.28,
      0.06, 0.35, 0.50, 0.60, 0.70, 0.85, 0.88, 0.85, 0.80, 0.82,
      0.75
    ];
    const R4_E39 = [
      0.70, 0.95, 0.95, 0.90, 0.60, 0.35, 0.10, 0.65, 0.35, 0.45,
      0.15, 0.10, 0.60, 0.90, 0.95, 0.95, 0.95, 0.90, 0.70, 0.15,
      0.40, 0.70, 0.65, 0.75, 0.90, 0.60, 0.10, 0.60, 0.85, 0.92,
      0.95, 0.95, 0.90, 0.92, 0.90, 0.85, 0.75, 0.40, 0.20, 0.60,
      0.82, 0.50, 0.05, 0.15, 0.65, 0.60, 0.20, 0.15, 0.30, 0.05,
      0.00, 0.05, 0.12, 0.38, 0.15, 0.10, 0.15, 0.12, 0.20, 0.30,
      0.20, 0.08, 0.01, 0.10, 0.55, 0.20, 0.05, 0.02, 0.15, 0.32,
      0.08, 0.45, 0.60, 0.72, 0.85, 0.95, 0.95, 0.92, 0.88, 0.92,
      0.85
    ];
    const R4_M37 = [
      0.14, 0.26, 0.24, 0.18, 0.20, 0.05, 0.00, 0.00, 0.00, 0.15,
      0.32, 0.20, 0.08, 0.20, 0.30, 0.10, 0.25, 0.20, 0.08, 0.00,
      0.08, 0.20, 0.15, 0.22, 0.10, 0.20, 0.05, 0.00, 0.10, 0.12,
      0.30, 0.18, 0.10, 0.08, 0.08, 0.18, 0.28, 0.15, 0.02, 0.06,
      0.14, 0.06, 0.01, 0.00, 0.02, 0.12, 0.08, 0.02, 0.00, 0.00,
      0.00, 0.00, 0.00, 0.00, 0.00, 0.00, 0.00, 0.00, 0.00, 0.00,
      0.00, 0.00, 0.00, 0.00, 0.00, 0.00, 0.00, 0.01, 0.06, 0.12,
      0.12, 0.02, 0.02, 0.17, 0.12, 0.05, 0.10, 0.17, 0.07, 0.01,
      0.03
    ];
    const R4_M38 = [
      0.70, 0.82, 0.72, 0.50, 0.22, 0.15, 0.04, 0.25, 0.65, 0.62,
      0.30, 0.08, 0.40, 0.55, 0.62, 0.70, 0.65, 0.60, 0.45, 0.20,
      0.40, 0.70, 0.62, 0.48, 0.55, 0.40, 0.25, 0.08, 0.35, 0.55,
      0.62, 0.70, 0.65, 0.68, 0.75, 0.72, 0.50, 0.32, 0.25, 0.40,
      0.62, 0.50, 0.15, 0.12, 0.35, 0.50, 0.40, 0.30, 0.25, 0.05,
      0.01, 0.03, 0.05, 0.15, 0.06, 0.03, 0.05, 0.06, 0.08, 0.10,
      0.06, 0.03, 0.01, 0.03, 0.18, 0.10, 0.02, 0.01, 0.05, 0.15,
      0.22, 0.30, 0.40, 0.55, 0.62, 0.65, 0.72, 0.70, 0.55, 0.40,
      0.35
    ];
    const R4_M39 = [
      0.82, 0.92, 0.85, 0.65, 0.30, 0.20, 0.05, 0.30, 0.78, 0.72,
      0.40, 0.10, 0.55, 0.75, 0.88, 0.90, 0.92, 0.88, 0.60, 0.25,
      0.50, 0.86, 0.75, 0.50, 0.68, 0.50, 0.35, 0.10, 0.45, 0.72,
      0.82, 0.88, 0.90, 0.88, 0.85, 0.88, 0.60, 0.40, 0.30, 0.50,
      0.75, 0.60, 0.20, 0.15, 0.45, 0.68, 0.55, 0.45, 0.35, 0.08,
      0.02, 0.05, 0.08, 0.20, 0.10, 0.05, 0.08, 0.10, 0.12, 0.15,
      0.10, 0.05, 0.02, 0.05, 0.25, 0.15, 0.03, 0.02, 0.08, 0.20,
      0.30, 0.40, 0.52, 0.75, 0.80, 0.85, 0.90, 0.88, 0.75, 0.60,
      0.45
    ];

    // colours per antenna: [estimated, measured]
    const ANTENNA_COLORS = [
      ['#0c4b74', '#1677b7'],
      ['#7d3a04', '#dc6a12'],
      ['#456a1f', '#77ae3c'],
      ['#8a6002', '#e6a010']
    ];
    const DASH = { 37: [], 38: [3, 4], 39: [8, 5] };

    // page geometry
    const ROW_TOP = [108, 342, 577, 811];   // pixel row of p = 1
    const COL_LEFT = [0, 667];
    const PLOT_H = 141;

    Chart.defaults.font.family = "'Liberation Serif', 'Times New Roman', serif";
    Chart.defaults.color = '#000';

    const axisArrows = {
      id: 'axisArrows',
      afterDraw(chart) {
        const { ctx, chartArea: a } = chart;
        ctx.save();
        ctx.strokeStyle = '#000';
        ctx.lineWidth = 1.4;
        ctx.lineJoin = 'miter';
        ctx.beginPath();
        ctx.moveTo(a.left, a.top + 4);
        ctx.lineTo(a.left, a.top - 1);
        ctx.moveTo(a.left - 4, a.top + 6);
        ctx.lineTo(a.left, a.top - 1.5);
        ctx.lineTo(a.left + 4, a.top + 6);
        ctx.moveTo(a.right - 6, a.bottom - 4);
        ctx.lineTo(a.right + 1.5, a.bottom);
        ctx.lineTo(a.right - 6, a.bottom + 4);
        ctx.stroke();
        ctx.restore();
      }
    };

    function series(label, values, color, width, ch) {
      return {
        label,
        data: values.map((y, i) => ({ x: TIME[i], y })),
        borderColor: color,
        borderWidth: width,
        borderDash: DASH[ch],
        borderCapStyle: 'butt',
        borderJoinStyle: 'round',
        pointRadius: 0,
        cubicInterpolationMode: 'monotone',
        fill: false
      };
    }

    function panel(row, col, est, meas) {
      const [darkC, lightC] = ANTENNA_COLORS[row];
      const last = row === 3;
      const axisH = last ? 80 : 8;
      const canvas = document.createElement('canvas');
      canvas.width = 660;
      canvas.height = 20 + PLOT_H + axisH;
      canvas.style.left = COL_LEFT[col] + 'px';
      canvas.style.top = (ROW_TOP[row] - 20) + 'px';
      document.body.appendChild(canvas);

      // stacking from bottom to top: est 37, meas 37, est 38, meas 38, est 39, meas 39
      const estW = col === 0 ? 4.5 : 5.5;
      const sets = [];
      [37, 38, 39].forEach((ch, k) => {
        if (est[k]) sets.push(series('Estimated Ch ' + ch, est[k], darkC, estW, ch));
        sets.push(series('Measured Ch ' + ch, meas[k], lightC, ch === 37 ? 3.2 : 3.6, ch));
      });
      sets.reverse();

      new Chart(canvas, {
        type: 'line',
        data: { datasets: sets },
        options: {
          responsive: false,
          animation: false,
          events: [],
          layout: { padding: { top: 9.5, right: 12, bottom: 0, left: 0 } },
          plugins: { legend: { display: false }, tooltip: { enabled: false } },
          scales: {
            x: {
              type: 'linear',
              min: 10,
              max: 170,
              afterBuildTicks: s => { s.ticks = X_TICKS.map(v => ({ value: v })); },
              afterFit: s => { s.height = axisH; s.paddingLeft = 0; s.paddingRight = 0; },
              ticks: {
                display: last,
                autoSkip: false,
                maxRotation: 0,
                padding: 5,
                font: { size: 23 },
                callback: (v, i) => X_LABELS[i]
              },
              grid: { color: '#d2d2d2', tickLength: 5, tickColor: '#9a9a9a' },
              border: { color: '#000', width: 1.4 },
              title: {
                display: last,
                text: 'Time',
                font: { size: 23 },
                padding: { top: 0, bottom: 7 }
              }
            },
            y: {
              min: 0,
              max: 1.075,
              afterBuildTicks: s => { s.ticks = Y_TICKS.map(v => ({ value: v })); },
              afterFit: s => { s.width = 96; s.paddingTop = 0; s.paddingBottom = 0; },
              ticks: {
                padding: 10,
                font: { size: 23 },
                callback: (v, i) => Y_LABELS[i]
              },
              grid: { color: '#d2d2d2', tickLength: 5, tickColor: '#9a9a9a' },
              border: { color: '#000', width: 1.4 },
              title: {
                display: true,
                text: 'Probability',
                font: { size: 23 },
                padding: { top: 6, bottom: 0 }
              }
            }
          }
        },
        plugins: [axisArrows]
      });
    }

    panel(0, 0, [L1_EST], [L1_M37, L1_M38, L1_M39]);
    panel(1, 0, [L2_EST], [L2_M37, L2_M38, L2_M39]);
    panel(2, 0, [L3_EST], [L3_M37, L3_M38, L3_M39]);
    panel(3, 0, [L4_EST], [L4_M37, L4_M38, L4_M39]);
    panel(0, 1, [R1_E37, R1_E38, R1_E39], [R1_M37, R1_M38, R1_M39]);
    panel(1, 1, [R2_E37, R2_E38, R2_E39], [R2_M37, R2_M38, R2_M39]);
    panel(2, 1, [R3_E37, R3_E38, R3_E39], [R3_M37, R3_M38, R3_M39]);
    panel(3, 1, [R4_E37, R4_E38, R4_E39], [R4_M37, R4_M38, R4_M39]);
  </script>

  <!-- headings -->
  <div class="t head" style="left:372px;top:15px"><i>γ</i> = -95&#8201;dBm</div>
  <div class="t head" style="left:1039px;top:15px"><i>γ</i> = -65&#8201;dBm</div>
  <div class="t title" style="left:372px;top:43px">Probability of detection - antenna 1</div>
  <div class="t title" style="left:1039px;top:43px">Probability of detection - antenna 1</div>
  <div class="t title" style="left:372px;top:291px">Probability of detection - antenna 2</div>
  <div class="t title" style="left:1039px;top:291px">Probability of detection - antenna 2</div>
  <div class="t title" style="left:372px;top:526px">Probability of detection - antenna 3</div>
  <div class="t title" style="left:1039px;top:526px">Probability of detection - antenna 3</div>
  <div class="t title" style="left:372px;top:760px">Probability of detection - antenna 4</div>
  <div class="t title" style="left:1039px;top:760px">Probability of detection - antenna 4</div>

  <!-- series legends -->
  <div class="topleg" style="left:133px;top:62px">
    <svg width="46" height="6"><line x1="0" y1="3" x2="46" y2="3" stroke="#0c4b74" stroke-width="4" /></svg>
    <span>Estimated <i>p</i><sub>α,&#8201;m</sub></span>
    <svg width="46" height="6"><line x1="0" y1="3" x2="46" y2="3" stroke="#1677b7" stroke-width="4" /></svg>
    <span>Measured <i>p</i><sub>c,&#8201;m</sub><span class="dot">·</span><i>p</i><sub>α,&#8201;m</sub></span>
  </div>
  <div class="topleg" style="left:800px;top:62px">
    <svg width="46" height="6"><line x1="0" y1="3" x2="46" y2="3" stroke="#0c4b74" stroke-width="4" /></svg>
    <span>Estimated <i>p</i><sub>α,&#8201;m</sub></span>
    <svg width="46" height="6"><line x1="0" y1="3" x2="46" y2="3" stroke="#1677b7" stroke-width="4" /></svg>
    <span>Measured <i>p</i><sub>c,&#8201;m</sub><span class="dot">·</span><i>p</i><sub>α,&#8201;m</sub></span>
  </div>

  <!-- channel legends -->
  <div class="chleg" style="left:113px;top:146px">
    <div><svg width="44" height="6"><line x1="0" y1="3" x2="44" y2="3" stroke="#000" stroke-width="3" /></svg>Ch 37</div>
    <div><svg width="44" height="6"><line x1="0" y1="3" x2="44" y2="3" stroke="#000" stroke-width="3" stroke-dasharray="3 4" /></svg>Ch 38</div>
    <div><svg width="44" height="6"><line x1="0" y1="3" x2="44" y2="3" stroke="#000" stroke-width="3" stroke-dasharray="8 5" /></svg>Ch 39</div>
  </div>
  <div class="chleg" style="left:780px;top:146px">
    <div><svg width="44" height="6"><line x1="0" y1="3" x2="44" y2="3" stroke="#000" stroke-width="3" /></svg>Ch 37</div>
    <div><svg width="44" height="6"><line x1="0" y1="3" x2="44" y2="3" stroke="#000" stroke-width="3" stroke-dasharray="3 4" /></svg>Ch 38</div>
    <div><svg width="44" height="6"><line x1="0" y1="3" x2="44" y2="3" stroke="#000" stroke-width="3" stroke-dasharray="8 5" /></svg>Ch 39</div>
  </div>

  <!-- captions -->
  <div class="t caption" style="left:325px;top:1048px">(a) <i>γ</i><span class="op">=</span>−95&#8201;dBm</div>
  <div class="t caption" style="left:992px;top:1048px">(b) <i>γ</i><span class="op">=</span>−65&#8201;dBm</div>
</body>
</html>
